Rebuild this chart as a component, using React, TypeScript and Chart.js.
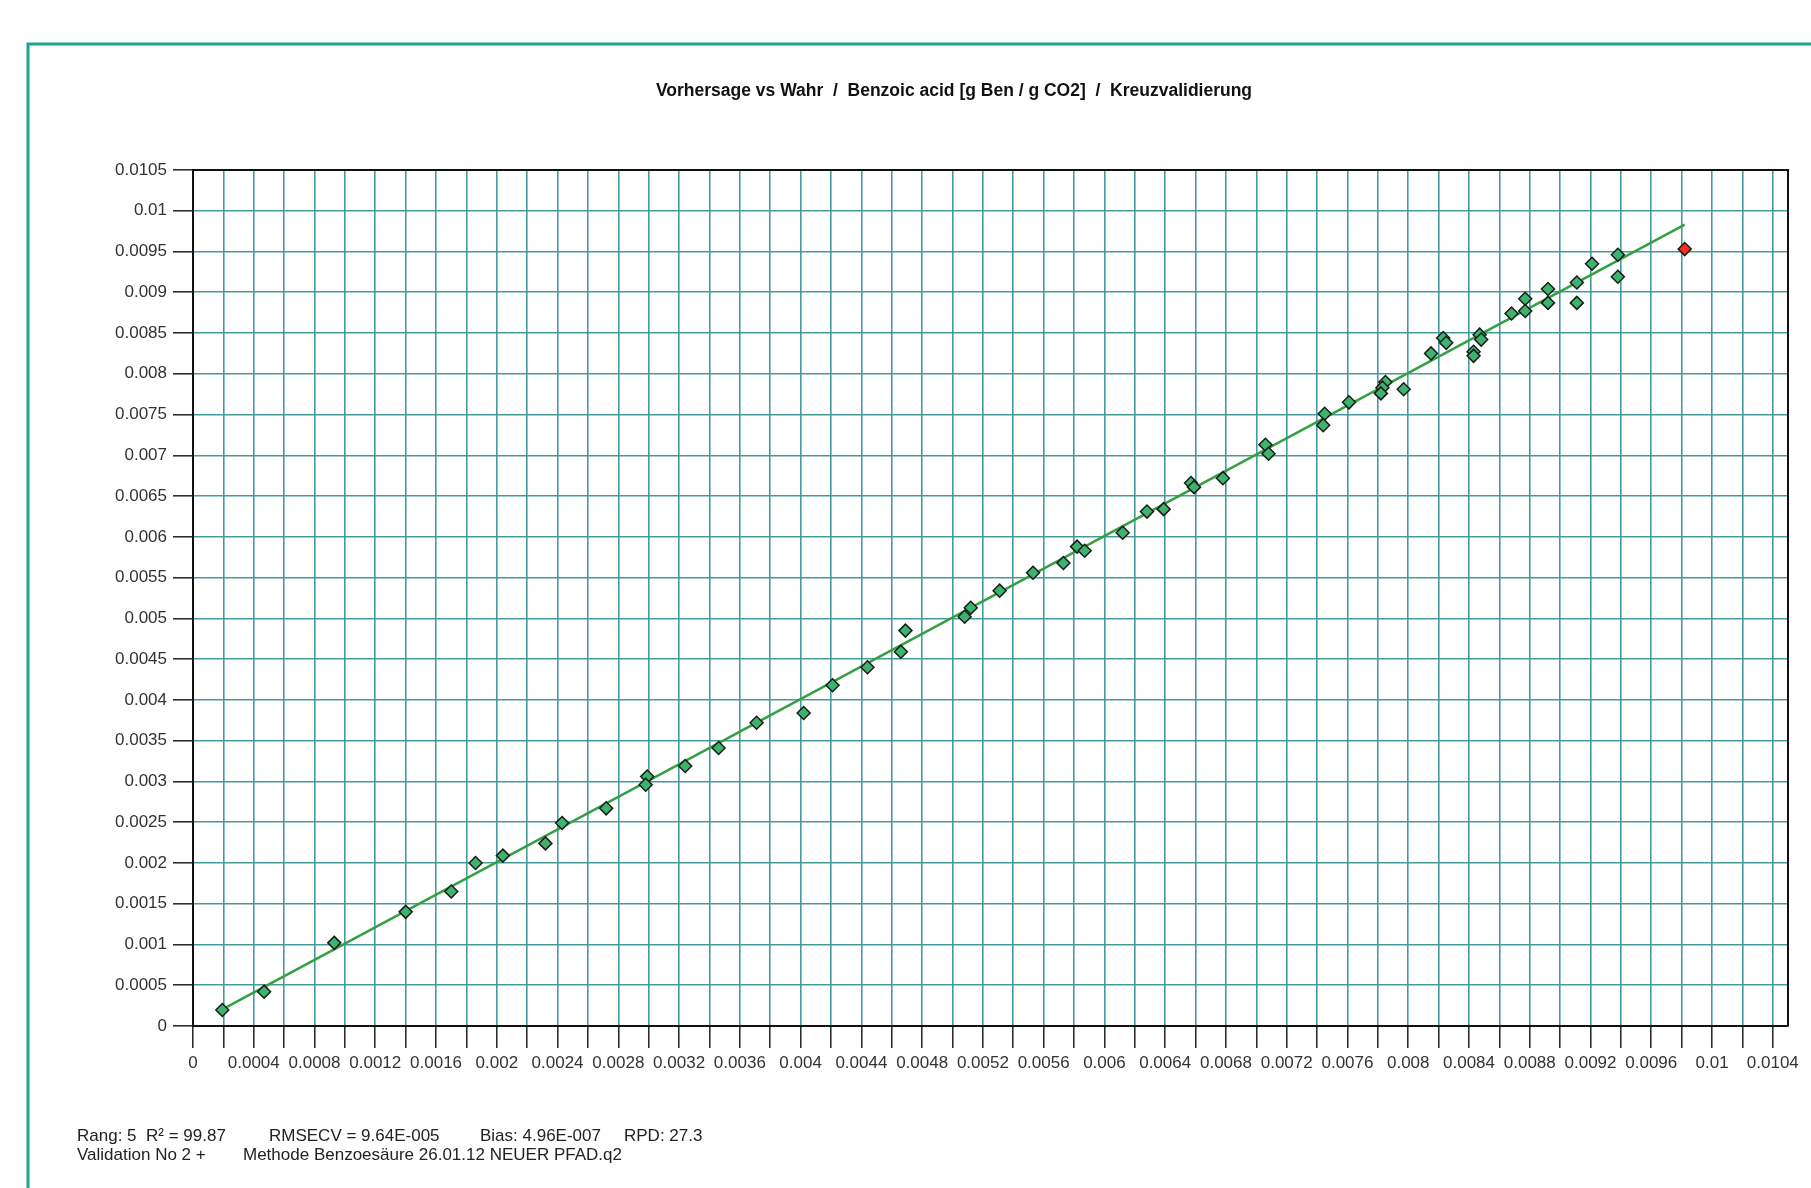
import React, { useEffect, useRef } from "react";
import { Chart, registerables } from "chart.js";

Chart.register(...registerables);

const titleText =
  "Vorhersage vs Wahr  /  Benzoic acid [g Ben / g CO2]  /  Kreuzvalidierung";
const footerLine1 = [
  "Rang: 5",
  "R² = 99.87",
  "RMSECV = 9.64E-005",
  "Bias: 4.96E-007",
  "RPD: 27.3",
];
const footerLine2 = [
  "Validation No 2 +",
  "Methode Benzoesäure 26.01.12 NEUER PFAD.q2",
];

// True (reference) values - x axis
const trueValues = [
  0.000193, 0.000468, 0.00093, 0.0014, 0.0017, 0.00186, 0.00204, 0.00232,
  0.00243, 0.00272, 0.00299, 0.00298, 0.00324, 0.00346, 0.00371, 0.00402,
  0.00421, 0.00444, 0.00466, 0.00469, 0.00508, 0.00512, 0.00531, 0.00553,
  0.00573, 0.00582, 0.00587, 0.00612, 0.00628, 0.00639, 0.00657, 0.00659,
  0.00678, 0.00706, 0.00708, 0.00745, 0.00744, 0.00761, 0.00785, 0.00783,
  0.00782, 0.00797, 0.00815, 0.00823, 0.00825, 0.00843, 0.00843, 0.00847,
  0.00848, 0.00868, 0.00877, 0.00877, 0.00892, 0.00892, 0.00911, 0.00911,
  0.00921, 0.00938, 0.00938,
];
// Predicted (cross-validated) values - y axis
const predictedValues = [
  0.000196, 0.000421, 0.00102, 0.0014, 0.00165, 0.002, 0.00209, 0.00224,
  0.00249, 0.00267, 0.00306, 0.00296, 0.00319, 0.00341, 0.00372, 0.00384,
  0.00418, 0.0044, 0.00459, 0.00485, 0.00502, 0.00513, 0.00534, 0.00556,
  0.00568, 0.00588, 0.00583, 0.00605, 0.00631, 0.00634, 0.00666, 0.00661,
  0.00672, 0.00713, 0.00702, 0.00751, 0.00737, 0.00765, 0.0079, 0.00783,
  0.00776, 0.00781, 0.00825, 0.00844, 0.00838, 0.00827, 0.00822, 0.00848,
  0.00842, 0.00874, 0.00892, 0.00877, 0.00904, 0.00887, 0.00912, 0.00887,
  0.00935, 0.00946, 0.00919,
];

// Marked sample (red)
const outlierTrue = [0.00982];
const outlierPredicted = [0.00953];

// Regression line end points
const fitLineX = [0.00019, 0.00982];
const fitLineY = [0.0002, 0.00983];

const xTickLabels = [
  "0", "0.0004", "0.0008", "0.0012", "0.0016", "0.002", "0.0024", "0.0028",
  "0.0032", "0.0036", "0.004", "0.0044", "0.0048", "0.0052", "0.0056",
  "0.006", "0.0064", "0.0068", "0.0072", "0.0076", "0.008", "0.0084",
  "0.0088", "0.0092", "0.0096", "0.01", "0.0104",
];
const yTickLabels = [
  "0", "0.0005", "0.001", "0.0015", "0.002", "0.0025", "0.003", "0.0035",
  "0.004", "0.0045", "0.005", "0.0055", "0.006", "0.0065", "0.007", "0.0075",
  "0.008", "0.0085", "0.009", "0.0095", "0.01", "0.0105",
];

const FONT = '"Liberation Sans", Arial, sans-serif';
const GRID = "#459b9b";
const fmt = (v: number) => String(Number(Number(v).toFixed(5)));

export default function App() {
  const ref = useRef<HTMLCanvasElement | null>(null);

  useEffect(() => {
    if (!ref.current) return;

    const decor = {
      id: "decor",
      beforeDraw(chart: any) {
        const { ctx, width, height } = chart;
        ctx.save();
        ctx.fillStyle = "#ffffff";
        ctx.fillRect(0, 0, width, height);
        ctx.strokeStyle = "#1aa68e";
        ctx.lineWidth = 3;
        ctx.beginPath();
        ctx.moveTo(28, height + 5);
        ctx.lineTo(28, 44);
        ctx.lineTo(width + 5, 44);
        ctx.stroke();
        ctx.restore();
      },
      beforeDatasetsDraw(chart: any) {
        const { ctx, chartArea } = chart;
        ctx.save();
        ctx.strokeStyle = "#111111";
        ctx.lineWidth = 2;
        ctx.beginPath();
        ctx.moveTo(chartArea.left, chartArea.top);
        ctx.lineTo(chartArea.right, chartArea.top);
        ctx.lineTo(chartArea.right, chartArea.bottom);
        ctx.stroke();
        ctx.restore();
      },
      afterDraw(chart: any) {
        const { ctx } = chart;
        ctx.save();
        ctx.fillStyle = "#111111";
        ctx.font = `bold 17.5px ${FONT}`;
        ctx.textAlign = "center";
        ctx.textBaseline = "middle";
        ctx.fillText(titleText, 954, 91);

        ctx.font = `17px ${FONT}`;
        ctx.textAlign = "left";
        ctx.fillStyle = "#222222";
        const x1 = [77, 146, 269, 480, 624];
        footerLine1.forEach((t, i) => ctx.fillText(t, x1[i], 1136));
        const x2 = [77, 243];
        footerLine2.forEach((t, i) => ctx.fillText(t, x2[i], 1155));
        ctx.restore();
      },
    };

    const chart = new Chart(ref.current, {
      type: "scatter",
      data: {
        datasets: [
          {
            label: "Proben",
            data: trueValues.map((x, i) => ({ x, y: predictedValues[i] })),
            pointStyle: "rectRot",
            pointRadius: 6.5,
            pointBackgroundColor: "#3cb46e",
            pointBorderColor: "#1a1a1a",
            pointBorderWidth: 1.5,
            order: 1,
          },
          {
            label: "Markiert",
            data: outlierTrue.map((x, i) => ({ x, y: outlierPredicted[i] })),
            pointStyle: "rectRot",
            pointRadius: 6.5,
            pointBackgroundColor: "#ff2a1a",
            pointBorderColor: "#1a1a1a",
            pointBorderWidth: 1.5,
            order: 0,
          },
          {
            label: "Regression",
            data: fitLineX.map((x, i) => ({ x, y: fitLineY[i] })),
            showLine: true,
            pointRadius: 0,
            borderColor: "#33a044",
            borderWidth: 2.5,
            order: 2,
          } as any,
        ],
      },
      options: {
        animation: false,
        responsive: false,
        events: [],
        layout: { padding: { top: 170, right: 23, left: 0, bottom: 0 } },
        plugins: {
          legend: { display: false },
          tooltip: { enabled: false },
          title: { display: false },
        },
        scales: {
          x: {
            type: "linear",
            min: 0,
            max: 0.0105,
            ticks: {
              stepSize: 0.0002,
              includeBounds: false,
              autoSkip: false,
              maxRotation: 0,
              minRotation: 0,
              padding: 5,
              color: "#333333",
              font: { family: FONT, size: 17 },
              callback: (v: any) => {
                const s = fmt(v);
                return xTickLabels.includes(s) ? s : "";
              },
            },
            grid: {
              color: GRID,
              lineWidth: 1.6,
              tickLength: 22,
              tickColor: "#222222",
              tickWidth: 1.5,
            },
            border: { color: "#111111", width: 2 },
            afterFit: (s: any) => {
              s.height = 162;
            },
          },
          y: {
            type: "linear",
            min: 0,
            max: 0.0105,
            ticks: {
              stepSize: 0.0005,
              autoSkip: false,
              padding: 6,
              color: "#333333",
              font: { family: FONT, size: 17 },
              callback: (v: any) => {
                const s = fmt(v);
                return yTickLabels.includes(s) ? s : "";
              },
            },
            grid: {
              color: (c: any) =>
                c.tick && c.tick.value >= 0.0105 - 1e-9 ? "#111111" : GRID,
              lineWidth: 1.6,
              tickLength: 20,
              tickColor: "#222222",
              tickWidth: 1.5,
            },
            border: { color: "#111111", width: 2 },
            afterFit: (s: any) => {
              s.width = 193;
            },
          },
        },
      } as any,
      plugins: [decor],
    });

    return () => chart.destroy();
  }, []);

  return (
    <div
      style={{
        position: "absolute",
        left: 0,
        top: 0,
        width: 1811,
        height: 1188,
        background: "#fff",
      }}
    >
      <canvas ref={ref} width={1811} height={1188} style={{ display: "block" }} />
    </div>
  );
}
